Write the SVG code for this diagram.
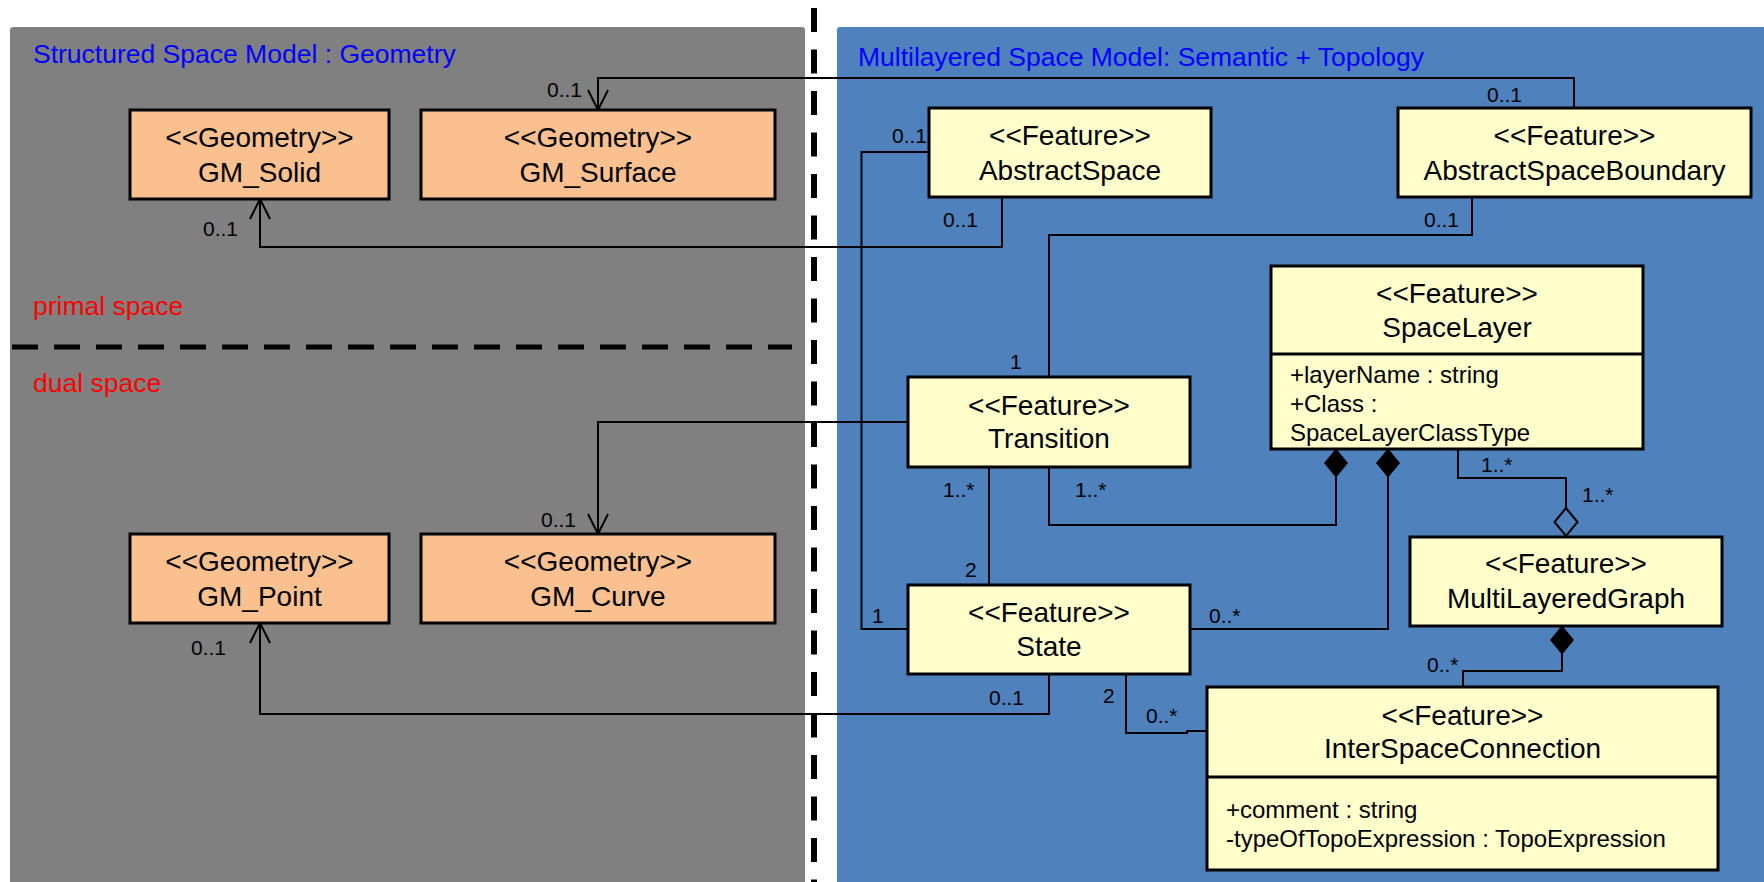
<svg xmlns="http://www.w3.org/2000/svg" xmlns:xlink="http://www.w3.org/1999/xlink" width="1764" height="882" viewBox="0 0 1764 882">
  <style>
    text { font-family: "Liberation Sans", Arial, sans-serif; fill: #000; }
    .title { font-size: 26.5px; fill: #0000ff; }
    .space { font-size: 26.5px; fill: #ff0000; }
    .name { font-size: 28px; text-anchor: middle; }
    .attr { font-size: 24px; }
    .mult { font-size: 21px; }
    .geom { fill: #fac090; stroke: #000; stroke-width: 3; }
    .feat { fill: #ffffcc; stroke: #000; stroke-width: 3; }
    .sep { stroke: #000; stroke-width: 3; }
    .conn { fill: none; stroke: #000; stroke-width: 2; }
    .filled { fill: #000; stroke: #000; stroke-width: 1; }
    .hollow { fill: #4f81bd; stroke: #000; stroke-width: 2; }
  </style>
  <defs>
    <marker id="open-arrow" markerUnits="userSpaceOnUse" orient="auto" refX="0" refY="0" markerWidth="24" markerHeight="24" viewBox="-22 -12 24 24" overflow="visible">
      <path d="M-20,-10 L0,0 L-20,10" fill="none" stroke="#000" stroke-width="2"/>
    </marker>
    <path id="diamond" d="M0,0 L11.5,14 L0,28 L-11.5,14 Z"/>
  </defs>

  <!-- background panels -->
  <rect x="0" y="0" width="1764" height="882" fill="#ffffff"/>
  <rect x="10" y="27" width="795" height="870" rx="3" fill="#808080"/>
  <rect x="837" y="27" width="940" height="870" rx="3" fill="#4f81bd"/>

  <!-- separators -->
  <line x1="814" y1="8" x2="814" y2="882" stroke="#000" stroke-width="6" stroke-dasharray="24 17.5"/>
  <line x1="12" y1="347" x2="792" y2="347" stroke="#000" stroke-width="5" stroke-dasharray="26 16"/>

  <!-- panel captions -->
  <text class="title" x="33" y="63">Structured Space Model : Geometry</text>
  <text class="title" x="858" y="66">Multilayered Space Model: Semantic + Topology</text>
  <text class="space" x="33" y="315">primal space</text>
  <text class="space" x="33" y="392">dual space</text>

  <!-- associations -->
  <g id="connectors">
    <path class="conn" d="M1574,108 V78 H598 V110" marker-end="url(#open-arrow)"/>
    <path class="conn" d="M1002,197 V247 H260 V199" marker-end="url(#open-arrow)"/>
    <path class="conn" d="M929,152 H861.5 V629 H908"/>
    <path class="conn" d="M1472,197 V235 H1049 V377"/>
    <path class="conn" d="M908,422 H598 V534" marker-end="url(#open-arrow)"/>
    <path class="conn" d="M989,467 V585"/>
    <path class="conn" d="M1336,477 V525 H1049 V467"/>
    <path class="conn" d="M1388,477 V629 H1190"/>
    <path class="conn" d="M1458,449 V478 H1566 V508"/>
    <path class="conn" d="M1562,653 V671 H1463 V687"/>
    <path class="conn" d="M1049,674 V714 H260 V623" marker-end="url(#open-arrow)"/>
    <path class="conn" d="M1126,674 V733 H1187 V731 H1207"/>
    <use xlink:href="#diamond" class="filled" x="1336" y="449"/>
    <use xlink:href="#diamond" class="filled" x="1388" y="449"/>
    <use xlink:href="#diamond" class="hollow" x="1566" y="508"/>
    <use xlink:href="#diamond" class="filled" x="1562" y="626"/>
    <g class="labels">
      <text class="mult" x="547" y="97">0..1</text>
      <text class="mult" x="1487" y="102">0..1</text>
      <text class="mult" x="943" y="227">0..1</text>
      <text class="mult" x="203" y="236">0..1</text>
      <text class="mult" x="892" y="143">0..1</text>
      <text class="mult" x="872" y="623">1</text>
      <text class="mult" x="1424" y="227">0..1</text>
      <text class="mult" x="1010" y="369">1</text>
      <text class="mult" x="541" y="527">0..1</text>
      <text class="mult" x="943" y="497">1..*</text>
      <text class="mult" x="965" y="577">2</text>
      <text class="mult" x="1075" y="497">1..*</text>
      <text class="mult" x="1209" y="623">0..*</text>
      <text class="mult" x="1481" y="472">1..*</text>
      <text class="mult" x="1582" y="502">1..*</text>
      <text class="mult" x="1427" y="672">0..*</text>
      <text class="mult" x="989" y="705">0..1</text>
      <text class="mult" x="191" y="655">0..1</text>
      <text class="mult" x="1103" y="703">2</text>
      <text class="mult" x="1146" y="723">0..*</text>
    </g>
  </g>

  <!-- geometry classes -->
  <g id="gm-solid">
    <rect class="geom" x="130" y="110" width="259" height="89"/>
    <text class="name" x="259.5" y="147">&lt;&lt;Geometry&gt;&gt;</text>
    <text class="name" x="259.5" y="182">GM_Solid</text>
  </g>
  <g id="gm-surface">
    <rect class="geom" x="421" y="110" width="354" height="89"/>
    <text class="name" x="598" y="147">&lt;&lt;Geometry&gt;&gt;</text>
    <text class="name" x="598" y="182">GM_Surface</text>
  </g>
  <g id="gm-point">
    <rect class="geom" x="130" y="534" width="259" height="89"/>
    <text class="name" x="259.5" y="571">&lt;&lt;Geometry&gt;&gt;</text>
    <text class="name" x="259.5" y="606">GM_Point</text>
  </g>
  <g id="gm-curve">
    <rect class="geom" x="421" y="534" width="354" height="89"/>
    <text class="name" x="598" y="571">&lt;&lt;Geometry&gt;&gt;</text>
    <text class="name" x="598" y="606">GM_Curve</text>
  </g>

  <!-- feature classes -->
  <g id="abstract-space">
    <rect class="feat" x="929" y="108" width="282" height="89"/>
    <text class="name" x="1070" y="145">&lt;&lt;Feature&gt;&gt;</text>
    <text class="name" x="1070" y="180">AbstractSpace</text>
  </g>
  <g id="abstract-space-boundary">
    <rect class="feat" x="1398" y="108" width="353" height="89"/>
    <text class="name" x="1574.5" y="145">&lt;&lt;Feature&gt;&gt;</text>
    <text class="name" x="1574.5" y="180">AbstractSpaceBoundary</text>
  </g>
  <g id="space-layer">
    <rect class="feat" x="1271" y="266" width="372" height="183"/>
    <line class="sep" x1="1271" y1="354" x2="1643" y2="354"/>
    <text class="name" x="1457" y="303">&lt;&lt;Feature&gt;&gt;</text>
    <text class="name" x="1457" y="337">SpaceLayer</text>
    <text class="attr" x="1290" y="383">+layerName : string</text>
    <text class="attr" x="1290" y="412">+Class :</text>
    <text class="attr" x="1290" y="441">SpaceLayerClassType</text>
  </g>
  <g id="transition">
    <rect class="feat" x="908" y="377" width="282" height="90"/>
    <text class="name" x="1049" y="415">&lt;&lt;Feature&gt;&gt;</text>
    <text class="name" x="1049" y="448">Transition</text>
  </g>
  <g id="state">
    <rect class="feat" x="908" y="585" width="282" height="89"/>
    <text class="name" x="1049" y="622">&lt;&lt;Feature&gt;&gt;</text>
    <text class="name" x="1049" y="656">State</text>
  </g>
  <g id="multi-layered-graph">
    <rect class="feat" x="1410" y="537" width="312" height="89"/>
    <text class="name" x="1566" y="573">&lt;&lt;Feature&gt;&gt;</text>
    <text class="name" x="1566" y="608">MultiLayeredGraph</text>
  </g>
  <g id="inter-space-connection">
    <rect class="feat" x="1207" y="687" width="511" height="183"/>
    <line class="sep" x1="1207" y1="777" x2="1718" y2="777"/>
    <text class="name" x="1462.5" y="725">&lt;&lt;Feature&gt;&gt;</text>
    <text class="name" x="1462.5" y="758">InterSpaceConnection</text>
    <text class="attr" x="1226" y="818">+comment : string</text>
    <text class="attr" x="1226" y="847">-typeOfTopoExpression : TopoExpression</text>
  </g>
</svg>
